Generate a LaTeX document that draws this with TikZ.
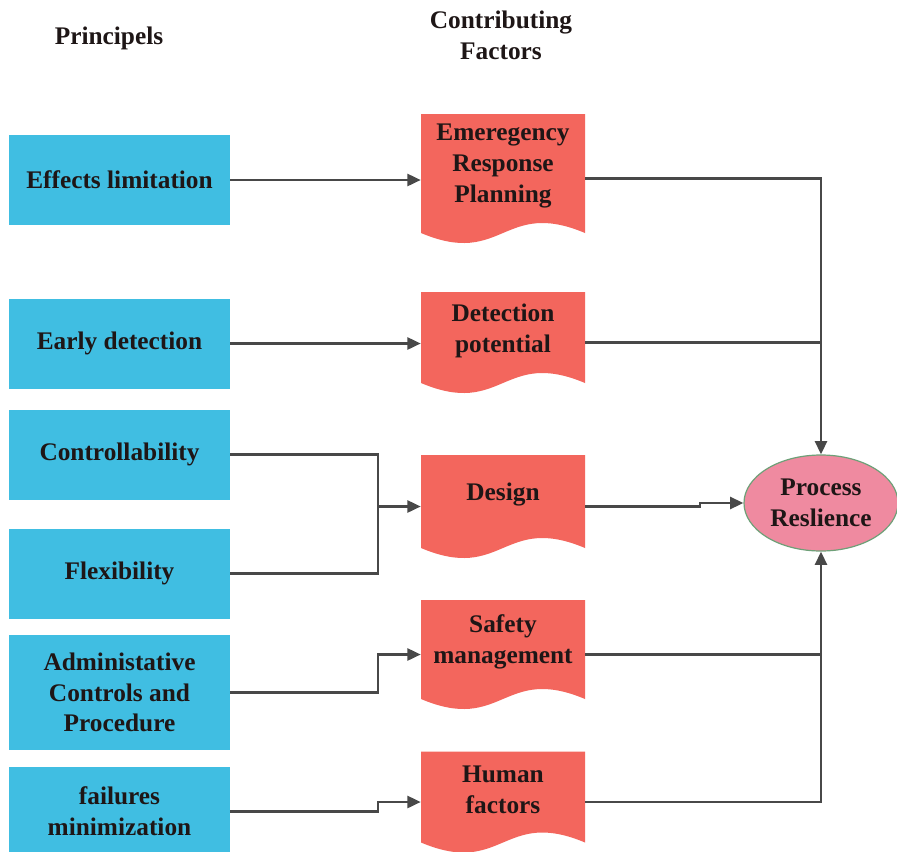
\documentclass[tikz,border=0pt]{standalone}
\usepackage{fontspec}
\setmainfont{Liberation Serif}
\usetikzlibrary{arrows.meta,shapes.geometric}
\definecolor{boxblue}{RGB}{64,190,226}
\definecolor{docred}{RGB}{243,102,93}
\definecolor{ellpink}{RGB}{239,138,160}
\definecolor{ellborder}{RGB}{110,160,120}
\definecolor{linegray}{RGB}{72,72,72}
\definecolor{txt}{RGB}{30,22,22}
\tikzset{
  lbl/.style={font=\fontsize{19}{23}\selectfont\bfseries, text=txt, align=center},
  bluebox/.style={lbl, rectangle, fill=boxblue, minimum width=165.75pt, inner sep=0pt},
  docbox/.style={rectangle, minimum width=123pt, inner sep=0pt,
    path picture={
      \fill[docred] (path picture bounding box.north west) -- (path picture bounding box.north east)
        -- ([yshift=7.5pt]path picture bounding box.south east)
        .. controls ([yshift=33.5pt]path picture bounding box.south) and ([yshift=-18.5pt]path picture bounding box.south)
        .. ([yshift=7.5pt]path picture bounding box.south west) -- cycle;
    }},
  doctext/.style={lbl, inner sep=0pt},
  conn/.style={draw=linegray, line width=1.9pt},
  arr/.style={conn, -{Triangle[length=10pt,width=9pt]}},
  ell/.style={lbl, ellipse, fill=ellpink, draw=ellborder, line width=0.9pt, minimum width=115.5pt, minimum height=72pt, inner sep=0pt}
}
\begin{document}
\begin{tikzpicture}[x=0.75pt,y=-0.75pt]
\useasboundingbox (0,0) rectangle (897,851);
\clip (0,0) rectangle (897,851);
\fill[white] (0,0) rectangle (897,851);

% headings
\node[lbl] (h1) at (109,38) {Principels};
\node[lbl] (h2) at (501,35) {Contributing\\Factors};

% principles
\node[bluebox, minimum height=67.5pt] (b1) at (119.5,180) {Effects limitation};
\node[bluebox, minimum height=67.5pt] (b2) at (119.5,343.5) {Early detection};
\node[bluebox, minimum height=67.5pt] (b3) at (119.5,454.5) {Controllability};
\node[bluebox, minimum height=67.5pt] (b4) at (119.5,573.5) {Flexibility};
\node[bluebox, minimum height=86.25pt] (b5) at (119.5,692.5) {Administative\\Controls and\\Procedure};
\node[bluebox, minimum height=67.5pt] (b6) at (119.5,811.5) {failures\\minimization};

% contributing factors (document shapes)
\node[docbox, minimum height=96.75pt] (f1) at (503,178.5) {};
\node[doctext] (t1) at (503,166) {Emeregency\\Response\\Planning};
\node[docbox, minimum height=75.75pt] (f2) at (503,342.5) {};
\node[doctext] (t2) at (503,331) {Detection\\potential};
\node[docbox, minimum height=77.25pt] (f3) at (503,506.5) {};
\node[doctext] (t3) at (503,494) {Design};
\node[docbox, minimum height=81.75pt] (f4) at (503,654.5) {};
\node[doctext] (t4) at (503,642) {Safety\\management};
\node[docbox, minimum height=75.75pt] (f5) at (503,802) {};
\node[doctext] (t5) at (503,790) {Human\\factors};

% result
\node[ell] (pr) at (821,503) {Process\\Reslience};

% junction columns
\coordinate (jx) at (378,0);
\coordinate (kx) at (700,0);

% left connectors
\draw[arr] (b1.east) -- (b1.east -| f1.west);
\draw[arr] (b2.east) -- (b2.east -| f2.west);
\draw[conn] (b3.east) -| (jx |- f3.west);
\draw[conn] (b4.east) -| (jx |- f3.west);
\draw[arr] (jx |- f3.west) -- (f3.west);
\draw[arr] (b5.east) -| (jx |- f4.west) -- (f4.west);
\draw[arr] (b6.east) -| (jx |- f5.west) -- (f5.west);

% right connectors
\draw[arr] (f1.east) -| (pr.north);
\draw[conn] (f2.east) -- (f2.east -| pr.north);
\draw[arr] (f3.east) -- (f3.east -| kx) -- (kx |- pr.west) -- (pr.west);
\draw[conn] (f4.east) -- (f4.east -| pr.south);
\draw[arr] (f5.east) -| (pr.south);
\end{tikzpicture}
\end{document}
